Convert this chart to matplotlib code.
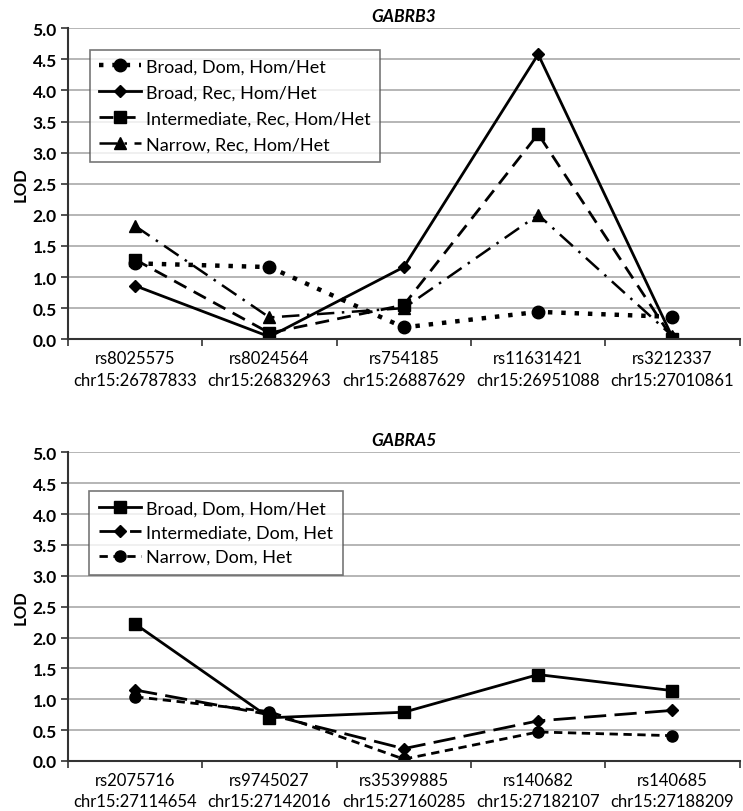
import matplotlib
matplotlib.use("Agg")
import matplotlib.pyplot as plt
import numpy as np

plt.rcParams["font.family"] = ["Lato", "DejaVu Sans"]

# GABRB3 panel
top_labels = [
    "rs8025575\nchr15:26787833",
    "rs8024564\nchr15:26832963",
    "rs754185\nchr15:26887629",
    "rs11631421\nchr15:26951088",
    "rs3212337\nchr15:27010861",
]
top_broad_dom = [1.22, 1.16, 0.19, 0.44, 0.36]
top_broad_rec = [0.86, 0.04, 1.16, 4.58, 0.03]
top_inter_rec = [1.28, 0.10, 0.55, 3.30, 0.01]
top_narrow_rec = [1.82, 0.35, 0.50, 2.00, 0.05]

# GABRA5 panel
bot_labels = [
    "rs2075716\nchr15:27114654",
    "rs9745027\nchr15:27142016",
    "rs35399885\nchr15:27160285",
    "rs140682\nchr15:27182107",
    "rs140685\nchr15:27188209",
]
bot_broad_dom = [2.22, 0.70, 0.79, 1.40, 1.14]
bot_inter_dom = [1.15, 0.75, 0.20, 0.65, 0.82]
bot_narrow_dom = [1.04, 0.80, 0.03, 0.47, 0.41]

fig = plt.figure(figsize=(7.43, 8.12), dpi=100)
ax1 = fig.add_axes([0.0915, 0.581, 0.904, 0.383])
ax2 = fig.add_axes([0.0915, 0.0616, 0.904, 0.380])


def style_axis(ax, labels, title):
    x = np.arange(len(labels))
    ax.set_xlim(-0.5, len(labels) - 0.5)
    ax.set_ylim(0, 5)
    ax.set_yticks(np.arange(0, 5.01, 0.5))
    ax.set_yticklabels(["%.1f" % v for v in np.arange(0, 5.01, 0.5)],
                       fontweight="bold", fontsize=12.5)
    ax.set_xticks(x)
    ax.set_xticklabels(labels, fontsize=12, linespacing=1.4)
    ax.tick_params(axis="x", length=0, pad=8)
    ax.set_xticks(np.arange(-0.5, len(labels), 1.0), minor=True)
    ax.tick_params(axis="x", which="minor", length=5, direction="out",
                   width=1.2, color="#333333")
    ax.tick_params(axis="y", length=5, direction="out", width=1.2,
                   color="#333333", pad=3)
    ax.grid(axis="y", color="#b0b0b0", linewidth=1.3)
    ax.set_axisbelow(True)
    for s in ["top", "right"]:
        ax.spines[s].set_visible(False)
    ax.spines["left"].set_color("#333333")
    ax.spines["bottom"].set_color("#333333")
    ax.spines["left"].set_linewidth(1.5)
    ax.spines["bottom"].set_linewidth(1.5)
    ax.set_ylabel("LOD", fontweight="bold", fontsize=12, labelpad=3)
    ax.set_title(title, fontstyle="italic", fontweight="bold", fontsize=12.5,
                 pad=5)
    return x


x = style_axis(ax1, top_labels, "GABRB3")
ax1.plot(x, top_broad_dom, color="black", linestyle=(0, (1, 2)), linewidth=3.2,
         marker="o", markersize=9, label="Broad, Dom, Hom/Het")
ax1.plot(x, top_broad_rec, color="black", linestyle="-", linewidth=2,
         marker="D", markersize=6, label="Broad, Rec, Hom/Het")
ax1.plot(x, top_inter_rec, color="black", linestyle=(0, (5, 3)), linewidth=2,
         marker="s", markersize=8, label="Intermediate, Rec, Hom/Het")
ax1.plot(x, top_narrow_rec, color="black", linestyle=(0, (7, 3, 1, 3)),
         linewidth=1.8, marker="^", markersize=9, label="Narrow, Rec, Hom/Het")
leg1 = ax1.legend(loc="upper left", bbox_to_anchor=(0.02, 0.96), fontsize=13,
                  frameon=True, fancybox=False, edgecolor="#555555",
                  handlelength=2.3, handletextpad=0.3, labelspacing=0.55,
                  borderpad=0.5)
leg1.get_frame().set_linewidth(1.2)

x = style_axis(ax2, bot_labels, "GABRA5")
ax2.plot(x, bot_broad_dom, color="black", linestyle="-", linewidth=2,
         marker="s", markersize=9, label="Broad, Dom, Hom/Het")
ax2.plot(x, bot_inter_dom, color="black", linestyle=(0, (8, 3)), linewidth=2,
         marker="D", markersize=6, label="Intermediate, Dom, Het")
ax2.plot(x, bot_narrow_dom, color="black", linestyle=(0, (3, 2)), linewidth=2,
         marker="o", markersize=8, label="Narrow, Dom, Het")
leg2 = ax2.legend(loc="upper left", bbox_to_anchor=(0.018, 0.905), fontsize=13,
                  frameon=True, fancybox=False, edgecolor="#555555",
                  handlelength=2.3, handletextpad=0.3, labelspacing=0.45,
                  borderpad=0.55)
leg2.get_frame().set_linewidth(1.2)

fig.savefig("out.png", dpi=100)
